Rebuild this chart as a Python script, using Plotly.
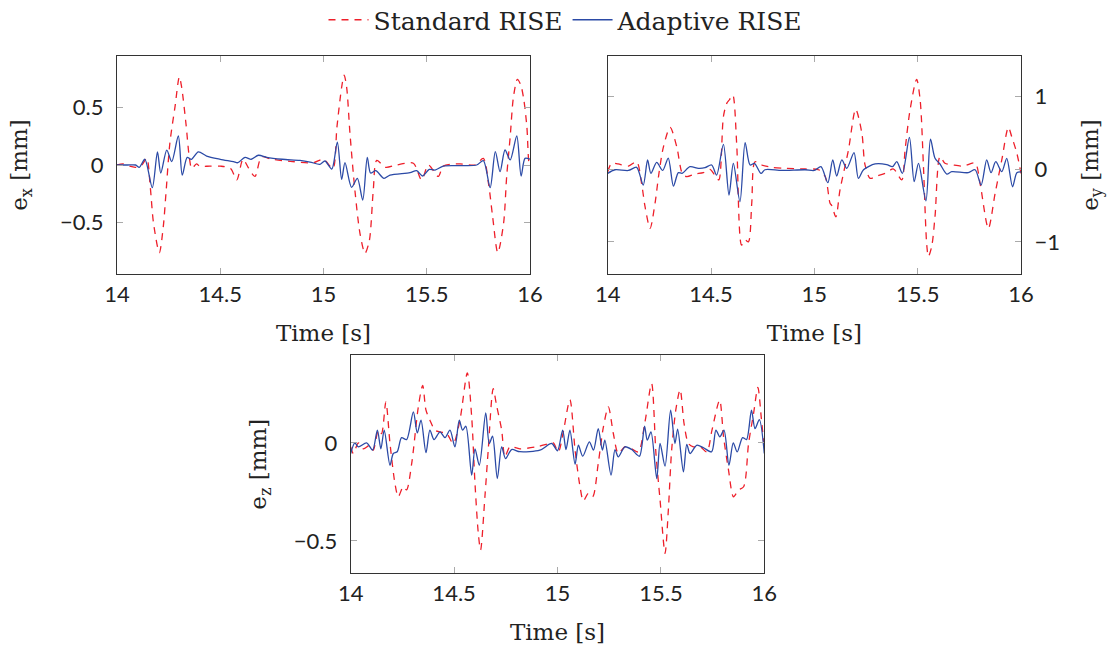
import plotly.graph_objects as go

# x error [mm]
ex_std_t = [14.0, 14.03, 14.06, 14.09, 14.12, 14.144, 14.161, 14.177, 14.205, 14.224, 14.237,
            14.256, 14.281, 14.302, 14.313, 14.334, 14.35, 14.362, 14.385, 14.4, 14.45, 14.5,
            14.55, 14.58, 14.61, 14.635, 14.668, 14.70, 14.75, 14.85, 14.95, 15.0, 15.045,
            15.065, 15.088, 15.10, 15.112, 15.128, 15.152, 15.177, 15.201, 15.222, 15.241,
            15.258, 15.30, 15.355, 15.435, 15.475, 15.508, 15.556, 15.58, 15.66, 15.734,
            15.774, 15.799, 15.819, 15.844, 15.872, 15.887, 15.904, 15.92, 15.939, 15.955,
            15.97, 15.985, 15.995, 16.0]
ex_std = [0.0, 0.01, -0.01, -0.02, 0.0, 0.06, -0.19, -0.51, -0.765, -0.54, -0.25,
          0.19, 0.51, 0.77, 0.68, 0.36, 0.07, -0.03, 0.01, -0.01, -0.01, -0.01,
          -0.03, -0.13, 0.05, -0.02, -0.10, 0.07, 0.05, 0.03, 0.02, 0.05, -0.03,
          0.33, 0.68, 0.785, 0.68, 0.28, -0.22, -0.6, -0.77, -0.66, -0.22,
          0.04, -0.02, 0.0, 0.015, -0.13, 0.0, -0.1, -0.01, 0.01, 0.0,
          0.058, -0.16, -0.45, -0.765, -0.51, -0.1, 0.246, 0.596, 0.747, 0.70,
          0.57, 0.33, 0.02, 0.0]

ex_ada_t = [14.0, 14.05, 14.09, 14.108, 14.135, 14.171, 14.196, 14.212, 14.241, 14.265,
            14.297, 14.316, 14.34, 14.36, 14.394, 14.434, 14.5, 14.564, 14.585, 14.62,
            14.65, 14.685, 14.725, 14.8, 14.886, 14.935, 14.983, 15.007, 15.04, 15.067,
            15.088, 15.104, 15.136, 15.164, 15.19, 15.212, 15.228, 15.253, 15.293, 15.322,
            15.419, 15.451, 15.48, 15.512, 15.54, 15.58, 15.66, 15.742, 15.774, 15.807,
            15.832, 15.855, 15.879, 15.904, 15.936, 15.957, 15.976, 16.0]
ex_ada = [0.0, 0.0, 0.0, -0.02, 0.05, -0.198, 0.115, -0.07, 0.13, 0.03,
          0.253, -0.088, 0.067, 0.05, 0.115, 0.078, 0.05, 0.029, 0.02, 0.067,
          0.05, 0.085, 0.067, 0.05, 0.04, 0.026, 0.006, 0.035, -0.035, 0.2,
          -0.125, 0.02, -0.195, -0.117, -0.306, 0.067, -0.07, -0.05, -0.117, -0.088,
          -0.067, -0.05, -0.096, -0.038, -0.044, -0.009, -0.005, 0.0, 0.038, -0.198,
          0.116, -0.058, 0.131, 0.044, 0.253, -0.096, 0.058, 0.05]

# y error [mm]
ey_std_t = [14.0, 14.019, 14.05, 14.1, 14.14, 14.164, 14.181, 14.205, 14.229, 14.248, 14.27,
            14.302, 14.334, 14.361, 14.382, 14.422, 14.463, 14.495, 14.523, 14.538, 14.56,
            14.576, 14.589, 14.605, 14.624, 14.648, 14.665, 14.681, 14.697, 14.713, 14.745,
            14.794, 14.858, 14.955, 15.02, 15.052, 15.076, 15.084, 15.104, 15.124, 15.165,
            15.2, 15.23, 15.245, 15.27, 15.302, 15.342, 15.383, 15.423, 15.439, 15.463,
            15.495, 15.512, 15.528, 15.544, 15.552, 15.568, 15.584, 15.608, 15.632, 15.673,
            15.721, 15.778, 15.802, 15.842, 15.875, 15.907, 15.939, 15.955, 15.98, 16.0]
ey_std = [-0.04, 0.078, 0.07, 0.04, 0.1, -0.2, -0.52, -0.815, -0.47, -0.06, 0.307,
          0.572, 0.307, -0.06, -0.105, -0.069, -0.05, -0.005, -0.105, -0.15, 0.72,
          0.9, 0.95, 1.016, 0.352, -1.044, -0.975, -1.0, -0.47, 0.1, 0.055,
          0.023, 0.01, 0.0, -0.01, -0.1, -0.47, -0.5, -0.655, -0.29, 0.26,
          0.82, 0.49, 0.06, -0.128, -0.096, -0.06, 0.0, -0.15, 0.26, 0.81,
          1.23, 0.948, 0.033, -1.044, -1.2, -1.06, -0.65, 0.17, 0.08, 0.055,
          0.04, 0.08, -0.2, -0.815, -0.33, 0.124, 0.572, 0.444, 0.215, -0.06]

ey_ada_t = [14.0, 14.035, 14.1, 14.14, 14.172, 14.193, 14.209, 14.237, 14.266, 14.293,
            14.318, 14.342, 14.36, 14.398, 14.439, 14.471, 14.503, 14.527, 14.56, 14.587,
            14.608, 14.64, 14.665, 14.689, 14.71, 14.742, 14.761, 14.842, 14.955, 15.0,
            15.032, 15.065, 15.089, 15.108, 15.133, 15.157, 15.192, 15.213, 15.238, 15.294,
            15.35, 15.378, 15.399, 15.426, 15.46, 15.483, 15.504, 15.54, 15.562, 15.584,
            15.608, 15.641, 15.665, 15.745, 15.778, 15.807, 15.834, 15.855, 15.878, 15.907,
            15.931, 15.959, 15.98, 16.0]
ey_ada = [-0.06, -0.01, -0.02, 0.023, -0.22, 0.124, -0.06, 0.09, -0.02, 0.15,
          -0.234, -0.05, -0.06, 0.032, 0.01, 0.018, 0.055, -0.083, 0.339, -0.357,
          0.078, -0.449, 0.362, 0.055, 0.078, -0.06, -0.01, -0.02, -0.01, -0.02,
          0.032, -0.188, 0.124, -0.096, 0.124, 0.01, 0.225, -0.128, -0.01, 0.069,
          0.06, 0.032, 0.1, -0.06, 0.435, -0.174, 0.078, -0.435, 0.408, 0.147,
          0.069, -0.069, -0.037, -0.05, -0.01, -0.22, 0.124, -0.05, 0.1, -0.037,
          0.147, -0.243, -0.05, -0.04]

# z error [mm]
ez_std_t = [14.0, 14.013, 14.037, 14.061, 14.093, 14.109, 14.134, 14.149, 14.17, 14.19,
            14.214, 14.23, 14.254, 14.27, 14.295, 14.327, 14.348, 14.364, 14.383, 14.408,
            14.432, 14.464, 14.496, 14.528, 14.564, 14.585, 14.601, 14.617, 14.628, 14.649,
            14.665, 14.689, 14.705, 14.73, 14.746, 14.77, 14.818, 14.899, 14.963, 14.98,
            15.004, 15.028, 15.06, 15.085, 15.109, 15.125, 15.149, 15.17, 15.197, 15.222,
            15.246, 15.27, 15.294, 15.326, 15.359, 15.391, 15.423, 15.455, 15.476, 15.496,
            15.52, 15.536, 15.552, 15.573, 15.593, 15.612, 15.633, 15.657, 15.69, 15.722,
            15.747, 15.784, 15.803, 15.827, 15.851, 15.875, 15.9, 15.924, 15.948, 15.969,
            15.985, 16.0]
ez_std = [-0.02, -0.054, 0.0, -0.03, -0.012, -0.037, 0.065, 0.048, 0.209, -0.003,
          -0.207, -0.275, -0.224, -0.24, -0.105, 0.184, 0.294, 0.167, 0.116, 0.065,
          0.056, 0.048, -0.003, 0.116, 0.357, 0.133, -0.207, -0.462, -0.547, -0.275,
          -0.037, 0.277, 0.193, 0.065, -0.071, -0.02, -0.03, -0.02, -0.003, 0.0,
          -0.046, 0.056, 0.221, -0.037, -0.224, -0.296, -0.258, -0.275, -0.105, 0.082,
          0.184, 0.048, -0.054, -0.02, -0.03, -0.046, 0.107, 0.303, -0.054, -0.292,
          -0.564, -0.343, -0.037, 0.175, 0.272, 0.099, -0.003, -0.02, -0.02, -0.046,
          0.065, 0.218, 0.031, -0.139, -0.275, -0.241, -0.224, -0.003, 0.15, 0.283,
          0.133, -0.03]

ez_ada_t = [14.0, 14.02, 14.037, 14.077, 14.106, 14.129, 14.146, 14.162, 14.19, 14.206,
            14.225, 14.246, 14.27, 14.303, 14.322, 14.34, 14.364, 14.383, 14.403, 14.432,
            14.456, 14.48, 14.504, 14.525, 14.541, 14.557, 14.585, 14.601, 14.622, 14.653,
            14.67, 14.686, 14.709, 14.73, 14.749, 14.778, 14.818, 14.915, 14.972, 15.0,
            15.025, 15.041, 15.06, 15.085, 15.101, 15.122, 15.154, 15.174, 15.197, 15.217,
            15.229, 15.259, 15.278, 15.294, 15.326, 15.359, 15.396, 15.421, 15.434, 15.452,
            15.48, 15.496, 15.52, 15.547, 15.568, 15.581, 15.609, 15.625, 15.641, 15.673,
            15.705, 15.745, 15.766, 15.785, 15.805, 15.829, 15.85, 15.869, 15.895, 15.914,
            15.938, 15.955, 15.976, 16.0]
ez_ada = [-0.054, 0.0, -0.02, 0.0, -0.037, 0.065, -0.03, 0.065, -0.114, -0.054,
          -0.045, 0.027, 0.017, 0.158, 0.051, 0.116, -0.05, 0.065, 0.017, 0.056,
          0.027, 0.065, -0.02, 0.116, 0.065, 0.085, -0.165, -0.03, -0.114, 0.153,
          -0.003, 0.034, -0.182, -0.02, -0.08, -0.034, -0.045, -0.037, -0.003, -0.04,
          0.065, -0.034, 0.065, -0.109, -0.012, -0.068, 0.005, -0.037, 0.073, -0.037,
          0.014, -0.165, -0.034, -0.071, -0.02, -0.034, -0.068, 0.085, 0.014, 0.056,
          -0.182, -0.003, -0.119, 0.167, -0.003, 0.07, -0.148, -0.007, -0.054, -0.012,
          -0.024, -0.046, 0.065, 0.031, 0.065, -0.114, 0.0, -0.046, 0.027, 0.017,
          0.167, 0.073, 0.119, -0.054]

time_ticks = [14, 14.5, 15, 15.5, 16]
time_labels = ["14", "14.5", "15", "15.5", "16"]

RED = "#ee1f2a"
BLUE = "#2b4aa6"
SERIF = "DejaVu Serif"
TICKFONT = dict(family="Lato", size=22, color="#222")
TITLEFONT = dict(family=SERIF, size=23, color="#222")

fig = go.Figure()

panels = [
    ("x", "y", ex_std_t, ex_std, ex_ada_t, ex_ada),
    ("x2", "y2", ey_std_t, ey_std, ey_ada_t, ey_ada),
    ("x3", "y3", ez_std_t, ez_std, ez_ada_t, ez_ada),
]
for i, (xa, ya, ts, vs, ta, va) in enumerate(panels):
    fig.add_trace(go.Scatter(
        x=ts, y=vs, xaxis=xa, yaxis=ya, mode="lines", name="Standard RISE",
        line=dict(color=RED, width=1.3, dash="7px,6px", shape="spline", smoothing=0.8),
        showlegend=(i == 0)))
    fig.add_trace(go.Scatter(
        x=ta, y=va, xaxis=xa, yaxis=ya, mode="lines", name="Adaptive RISE",
        line=dict(color=BLUE, width=1.3, shape="spline", smoothing=0.8),
        showlegend=(i == 0)))

W, H = 1116, 645


def xdom(a, b):
    return [a / W, b / W]


def ydom(top, bottom):
    return [1 - bottom / H, 1 - top / H]


frame = dict(showline=True, linecolor="#333", linewidth=1.2, mirror="ticks",
             ticks="inside", tickcolor="#aaa", ticklen=6, tickwidth=1.2,
             showgrid=False, zeroline=False, tickfont=TICKFONT, automargin=False)

xcommon = dict(frame, range=[14, 16], tickvals=time_ticks, ticktext=time_labels,
               ticklabelstandoff=0,
               title=dict(text="Time [s]", font=TITLEFONT, standoff=19))

fig.update_layout(
    width=W, height=H,
    margin=dict(l=0, r=0, t=0, b=0, autoexpand=False),
    paper_bgcolor="white", plot_bgcolor="white",
    legend=dict(orientation="h", x=566 / W, xanchor="center", y=1 - 20 / H, yanchor="middle",
                font=dict(family=SERIF, size=25, color="#222"), itemwidth=40,
                tracegroupgap=0, bgcolor="rgba(0,0,0,0)"),
    xaxis=dict(xcommon, domain=xdom(117, 530), anchor="y"),
    yaxis=dict(frame, domain=ydom(56, 274), anchor="x", range=[-0.951, 0.951],
               tickvals=[-0.5, 0, 0.5], ticklabelstandoff=8,
               title=dict(text="e<sub>x</sub> [mm]", font=TITLEFONT, standoff=25)),
    xaxis2=dict(xcommon, domain=xdom(607.7, 1021), anchor="y2"),
    yaxis2=dict(frame, domain=ydom(56, 274), anchor="x2", side="right", range=[-1.44, 1.55],
                tickvals=[-1, 0, 1], ticklabelstandoff=8,
                title=dict(text="e<sub>y</sub> [mm]", font=TITLEFONT, standoff=22)),
    xaxis3=dict(xcommon, domain=xdom(350.7, 764.3), anchor="y3"),
    yaxis3=dict(frame, domain=ydom(355, 573.3), anchor="x3", range=[-0.666, 0.449],
                tickvals=[-0.5, 0], ticklabelstandoff=8,
                title=dict(text="e<sub>z</sub> [mm]", font=TITLEFONT, standoff=20)),
)

fig.write_html("out.html", config={"displayModeBar": False},
               post_script="document.body.style.margin='0';")
